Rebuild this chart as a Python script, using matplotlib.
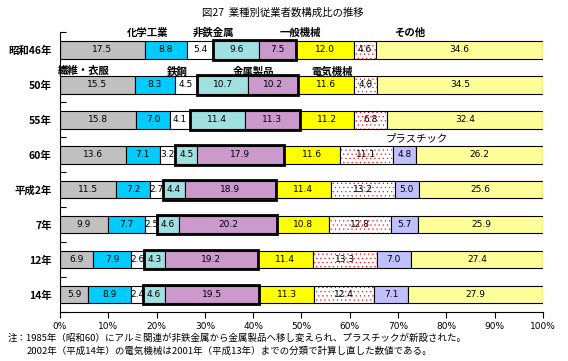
import matplotlib.pyplot as plt
from matplotlib.patches import Rectangle
import numpy as np

plt.rcParams['font.family'] = ['Noto Sans CJK JP', 'DejaVu Sans']
plt.rcParams['hatch.linewidth'] = 0.35

years = ['昭和46年', '50年', '55年', '60年', '平成2年', '7年', '12年', '14年']
industries = ['繊維・衣服', '化学工業', '鉄鋼', '非鉄金属', '金属製品',
              '一般機械', '電気機械', 'プラスチック', 'その他']

textile  = [17.5, 15.5, 15.8, 13.6, 11.5, 9.9, 6.9, 5.9]
chemical = [8.8, 8.3, 7.0, 7.1, 7.2, 7.7, 7.9, 8.9]
steel    = [5.4, 4.5, 4.1, 3.2, 2.7, 2.5, 2.6, 2.4]
nonferr  = [9.6, 10.7, 11.4, 4.5, 4.4, 4.6, 4.3, 4.6]
metal    = [7.5, 10.2, 11.3, 17.9, 18.9, 20.2, 19.2, 19.5]
machine  = [12.0, 11.6, 11.2, 11.6, 11.4, 10.8, 11.4, 11.3]
electric = [4.6, 4.8, 6.8, 11.1, 13.2, 12.8, 13.3, 12.4]
plastic  = [0, 0, 0, 4.8, 5.0, 5.7, 7.0, 7.1]
other    = [34.6, 34.5, 32.4, 26.2, 25.6, 25.9, 27.4, 27.9]

series = [textile, chemical, steel, nonferr, metal, machine, electric, plastic, other]
colors = ['#C0C0C0', '#00CCFF', '#FFFFFF', '#A0E0E0', '#CC99CC',
          '#FFFF00', '#FFFFFF', '#C0C0FF', '#FFFF99']

fig = plt.figure(figsize=(5.68, 3.61), dpi=100)
ax = fig.add_axes([0.1056, 0.1357, 0.8504, 0.7743])

y = np.arange(len(years))
h = 0.5
left = np.zeros(len(years))
for k, (vals, c) in enumerate(zip(series, colors)):
    vals = np.array(vals)
    if k == 6:
        # red dotted fill
        ax.barh(y, vals, h, left=left, color='white', edgecolor='red',
                hatch='....', linewidth=0)
        ax.barh(y, vals, h, left=left, color='none', edgecolor='black', linewidth=0.8)
    else:
        ax.barh(y, np.where(vals > 0, vals, np.nan), h, left=left, color=c,
                edgecolor='black', linewidth=0.8)
    for i, v in enumerate(vals):
        if v > 0:
            ax.text(left[i] + v / 2, y[i], f'{v:.1f}', ha='center', va='center',
                    fontsize=6.5, family='DejaVu Sans')
    left += vals

# thick frame around the non-ferrous + metal products block
start = np.array(textile) + np.array(chemical) + np.array(steel)
width = np.array(nonferr) + np.array(metal)
for i in range(len(years)):
    ax.add_patch(Rectangle((start[i], y[i] - h / 2 - 0.03), width[i], h + 0.06,
                           fill=False, edgecolor='black', linewidth=2, zorder=5))

ax.set_xlim(0, 100)
ax.set_ylim(len(years) - 0.5, -0.5)
ax.set_xticks(np.arange(0, 101, 10))
ax.set_xticklabels([f'{t}%' for t in range(0, 101, 10)], fontsize=6.5, family='DejaVu Sans')
ax.tick_params(axis='x', direction='out', length=4, width=0.8, pad=3)
ax.set_yticks(y)
ax.set_yticklabels(years, fontsize=7.5, fontweight='bold')
ax.tick_params(axis='y', length=0, pad=6)
ax.set_yticks(np.arange(-0.5, len(years) - 0.4, 1), minor=True)
ax.tick_params(axis='y', which='minor', direction='in', length=4, width=0.8)
for s in ['top', 'right']:
    ax.spines[s].set_visible(False)
ax.spines['left'].set_linewidth(0.8)
ax.spines['bottom'].set_linewidth(0.8)

# category labels
lab_kw = dict(fontsize=7.5, fontweight='bold', va='center')
ax.text(18.2, -0.49, '化学工業', ha='center', **lab_kw)
ax.text(31.7, -0.49, '非鉄金属', ha='center', **lab_kw)
ax.text(49.7, -0.49, '一般機械', ha='center', **lab_kw)
ax.text(72.3, -0.49, 'その他', ha='center', **lab_kw)
ax.text(-0.4, 1 - 0.39, '繊維・衣服', ha='left', **lab_kw)
ax.text(24.2, 1 - 0.39, '鉄鋼', ha='center', **lab_kw)
ax.text(40.0, 1 - 0.39, '金属製品', ha='center', **lab_kw)
ax.text(56.3, 1 - 0.39, '電気機械', ha='center', **lab_kw)
ax.text(73.9, 3 - 0.46, 'プラスチック', ha='center', fontsize=7.5, va='center')

fig.text(283 / 568, 1 - 13 / 361, '図27  業種別従業者数構成比の推移', ha='center',
         va='center', fontsize=7.5)
fig.text(8 / 568, 1 - 338 / 361,
         '注：1985年（昭和60）にアルミ関連が非鉄金属から金属製品へ移し変えられ、プラスチックが新設された。',
         ha='left', va='center', fontsize=6.8)
fig.text(27 / 568, 1 - 351 / 361,
         '2002年（平成14年）の電気機械は2001年（平成13年）までの分類で計算し直した数値である。',
         ha='left', va='center', fontsize=6.8)

fig.savefig('out.png', dpi=100)
